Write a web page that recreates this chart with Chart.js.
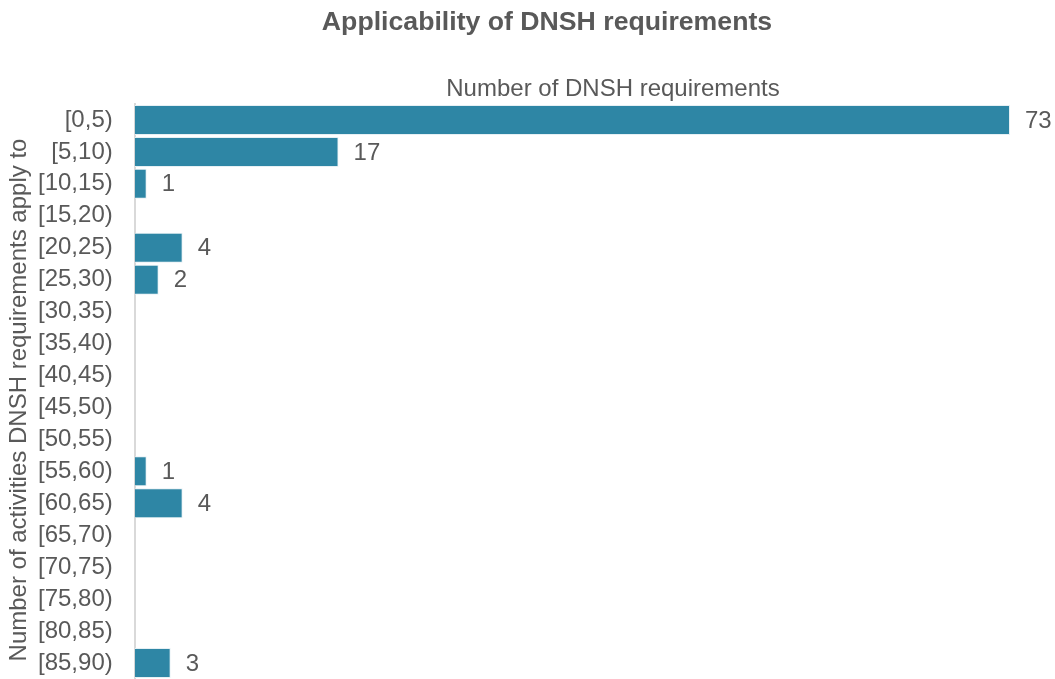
<!DOCTYPE html>
<html>
<head>
<meta charset="utf-8">
<script src="https://cdn.jsdelivr.net/npm/chart.js@4/dist/chart.umd.min.js"></script>
<style>
  body { margin: 0; background: #fff; }
</style>
</head>
<body>
<canvas id="dnshChart" width="1055" height="679"></canvas>
<script>
// DATA

const categories = [
  "[0,5)", "[5,10)", "[10,15)", "[15,20)", "[20,25)", "[25,30)",
  "[30,35)", "[35,40)", "[40,45)", "[45,50)", "[50,55)", "[55,60)",
  "[60,65)", "[65,70)", "[70,75)", "[75,80)", "[80,85)", "[85,90)"
];
const requirementCounts = [73, 17, 1, 0, 4, 2, 0, 0, 0, 0, 0, 1, 4, 0, 0, 0, 0, 3];

const chartTitle = "Applicability of DNSH requirements";
const xTitle = "Number of DNSH requirements";
const yTitle = "Number of activities DNSH requirements apply to";

const textColor = "#595959";
const fontFamily = "'Liberation Sans', Arial, sans-serif";

// DATA LABELS

const valueLabels = {
  id: "valueLabels",
  afterDatasetsDraw(chart) {
    const ctx = chart.ctx;
    const meta = chart.getDatasetMeta(0);
    ctx.save();
    ctx.font = "24px " + fontFamily;
    ctx.fillStyle = textColor;
    ctx.textAlign = "left";
    ctx.textBaseline = "middle";
    meta.data.forEach((bar, i) => {
      const v = requirementCounts[i];
      if (!v) return;
      ctx.fillText(String(v), bar.x + 15, bar.y + 1);
    });
    ctx.restore();
  }
};

// HEADINGS (title + axis titles, placed like the Excel original)

const headings = {
  id: "headings",
  afterDraw(chart) {
    const ctx = chart.ctx;
    const area = chart.chartArea;
    ctx.save();
    ctx.fillStyle = textColor;
    ctx.textAlign = "center";
    ctx.textBaseline = "middle";

    ctx.font = "bold 26.67px " + fontFamily;
    ctx.fillText(chartTitle, 547, 23);

    ctx.font = "24px " + fontFamily;
    ctx.fillText(xTitle, 613, area.top - 15);

    ctx.translate(19, 400);
    ctx.rotate(-Math.PI / 2);
    ctx.fillText(yTitle, 0, 0);
    ctx.restore();
  }
};

// CHART

new Chart(document.getElementById("dnshChart"), {
  type: "bar",
  data: {
    labels: categories,
    datasets: [{
      label: xTitle,
      data: requirementCounts,
      backgroundColor: "#2e86a5",
      borderColor: "#e6f0f4",
      borderWidth: 1,
      barPercentage: 0.94,
      categoryPercentage: 1
    }]
  },
  options: {
    indexAxis: "y",
    responsive: false,
    animation: false,
    layout: { padding: { left: 38, right: 45, top: 104, bottom: 0 } },
    plugins: {
      legend: { display: false },
      tooltip: { enabled: false },
      title: { display: false }
    },
    scales: {
      x: {
        display: false,
        min: 0,
        max: 73
      },
      y: {
        grid: { display: false, tickLength: 22 },
        border: { display: true, color: "#d9d9d9", width: 2 },
        ticks: {
          color: textColor,
          font: { family: fontFamily, size: 24, lineHeight: 0.01 },
          padding: 0
        }
      }
    }
  },
  plugins: [valueLabels, headings]
});
</script>
</body>
</html>
